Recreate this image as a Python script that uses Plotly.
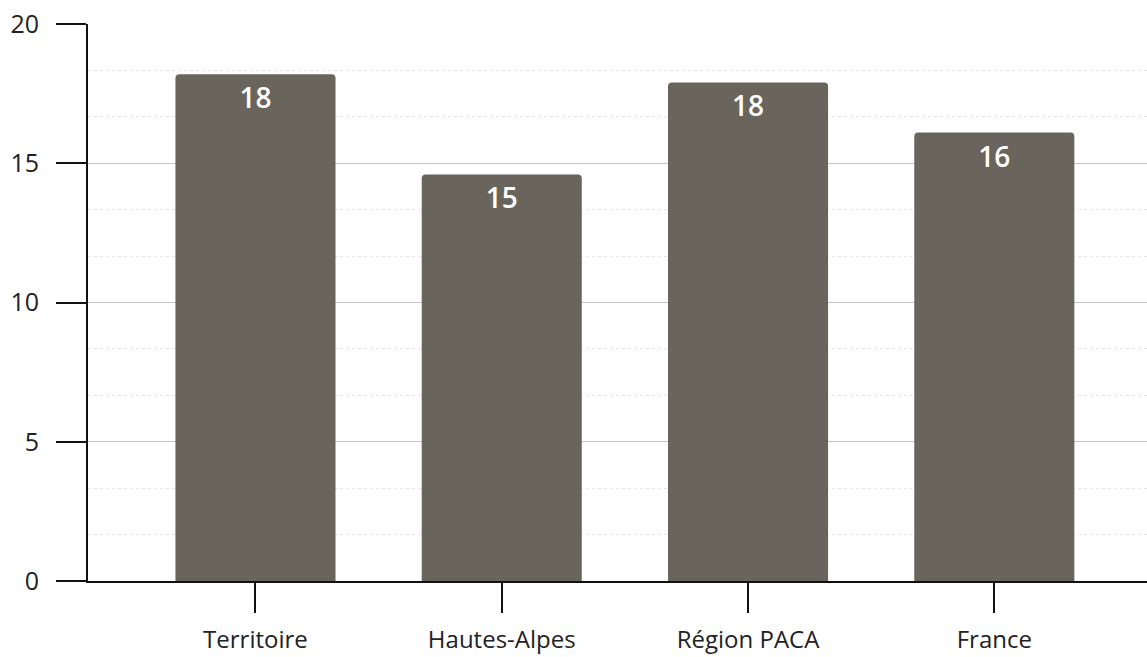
import plotly.graph_objects as go

categories = ["Territoire", "Hautes-Alpes", "Région PACA", "France"]
values = [18.2, 14.6, 17.9, 16.1]
y_ticks = [0, 5, 10, 15, 20]

bar_color = "#69655c"
axis_color = "#111111"
font_family = "Open Sans, Noto Sans, sans-serif"

fig = go.Figure(
    go.Bar(
        x=list(range(len(categories))),
        y=values,
        width=0.65,
        marker=dict(color=bar_color, line=dict(width=0), cornerradius=4),
        text=[f"{v:.0f}" for v in values],
        textposition="inside",
        insidetextanchor="end",
        textfont=dict(family=font_family, size=28, color="white", weight=600),
        cliponaxis=False,
    )
)

fig.update_layout(
    width=1147,
    height=657,
    margin=dict(l=88, r=0, t=24, b=76),
    paper_bgcolor="white",
    plot_bgcolor="white",
    showlegend=False,
    font=dict(family=font_family, color="#222222"),
)

fig.update_xaxes(
    range=[-0.68, 3.62],
    tickmode="array",
    tickvals=list(range(len(categories))),
    ticktext=categories,
    ticks="outside",
    ticklen=30,
    tickwidth=2,
    tickcolor=axis_color,
    ticklabelstandoff=6,
    tickfont=dict(size=24, color="#222222"),
    showline=True,
    linecolor=axis_color,
    linewidth=2,
    showgrid=False,
    zeroline=False,
)

fig.update_yaxes(
    range=[0, 20],
    tickmode="array",
    tickvals=y_ticks,
    ticks="outside",
    ticklen=30,
    tickwidth=2,
    tickcolor=axis_color,
    ticklabelstandoff=12,
    tickfont=dict(size=25, color="#222222"),
    showline=True,
    linecolor=axis_color,
    linewidth=2,
    showgrid=True,
    gridcolor="#c4c4c8",
    gridwidth=1,
    zeroline=False,
    minor=dict(
        dtick=5 / 3,
        tick0=0,
        showgrid=True,
        gridcolor="#e4e4e4",
        griddash="dot",
        gridwidth=1,
        ticks="",
    ),
)

fig.write_html("out.html")
